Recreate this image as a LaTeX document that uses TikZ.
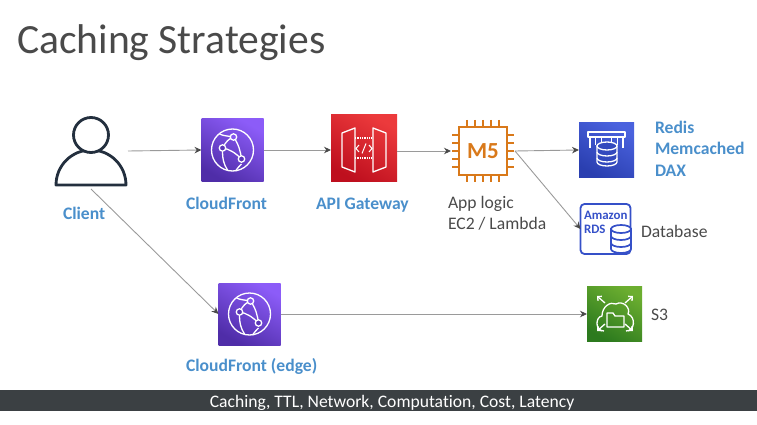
\documentclass[tikz,border=0pt]{standalone}
\usepackage{fontspec}
\setmainfont{Carlito}[Ligatures=NoCommon]
\usetikzlibrary{arrows.meta, positioning, calc}
\definecolor{awsPurpleA}{HTML}{8C5CF8}
\definecolor{awsPurpleB}{HTML}{4F2DA8}
\definecolor{awsRedA}{HTML}{EC3A3C}
\definecolor{awsRedB}{HTML}{BE0F1E}
\definecolor{awsBlueA}{HTML}{4A62DE}
\definecolor{awsBlueB}{HTML}{2A3FB0}
\definecolor{awsGreenA}{HTML}{6CAE30}
\definecolor{awsGreenB}{HTML}{2C7A1E}
\definecolor{awsOrange}{HTML}{D9791A}
\definecolor{awsRds}{HTML}{3550C8}
\definecolor{awsInk}{HTML}{232F3E}
\definecolor{lblBlue}{HTML}{4A8FCB}
\definecolor{lblGray}{HTML}{4A4A4A}
\definecolor{barGray}{HTML}{3B4043}
\definecolor{lineGray}{HTML}{9A9A9A}

\begin{document}
\begin{tikzpicture}[
  x=1pt, y=-1pt,
  every node/.append style={outer sep=0pt},
  tile/.style={minimum size=#1, inner sep=0pt},
  tile/.default=62pt,
  purpletile/.style={tile, top color=awsPurpleA, bottom color=awsPurpleB, shading angle=-30},
  redtile/.style={tile=66pt, top color=awsRedA, bottom color=awsRedB, shading angle=-30},
  bluetile/.style={tile=55pt, top color=awsBlueA, bottom color=awsBlueB, shading angle=-30},
  greentile/.style={tile=55pt, top color=awsGreenA, bottom color=awsGreenB, shading angle=-30},
  svc/.style={anchor=base west, inner sep=0pt, text=lblBlue, font=\fontsize{17.6}{20}\selectfont\bfseries},
  txt/.style={anchor=base west, inner sep=0pt, text=lblGray, font=\fontsize{17.6}{20}\selectfont},
  rdstxt/.style={anchor=base west, inner sep=0pt, text=awsRds, font=\fontsize{12.9}{15}\selectfont\bfseries},
  flow/.style={draw=lineGray, line width=0.9pt, -{Stealth[length=7pt, width=6.5pt, color=lblGray]}},
  glyph/.style={draw=white, line width=1.3pt},
  cfglyph/.pic={
    \draw[glyph] (0,0) circle (21);
    \draw[glyph] (-10,-2) .. controls (-6,-9) and (-4,-11) .. (1,-13);
    \draw[glyph] (-10,-2) .. controls (-3,-1) and (3,3) .. (9,9);
    \draw[glyph] (1,-13) .. controls (6,-6) and (8,1) .. (9,9);
    \draw[glyph] (-10,2) .. controls (-10,8) and (-9,14) .. (-5,20);
    \draw[glyph] (-13,-16) .. controls (-9,-14) and (-4,-14) .. (1,-13);
    \draw[glyph] (9,14) .. controls (7,16) and (5,18) .. (3,21);
    \draw[glyph, fill=awsPurpleB!80!awsPurpleA] (-10,-2) circle (3.2);
    \draw[glyph, fill=awsPurpleB!80!awsPurpleA] (9,9) circle (3.2);
    \draw[glyph, fill=awsPurpleA!90!awsPurpleB] (1,-13) circle (3.2);
  },
  dbglyph/.style={draw=#1, line width=1.7pt},
]

% ======================= title and bar ==================================
\node[anchor=base west, inner sep=0pt, text=lblGray, font=\fontsize{41.6}{50}\selectfont]
  (title) at (17,54) {Caching Strategies};
\node[fill=barGray, minimum width=757pt, minimum height=21pt, inner sep=0pt,
      text=white, font=\fontsize{17.6}{20}\selectfont, text depth=0pt]
  (bar) at (378.5,400.5) {\hspace*{27pt}\raisebox{-1pt}{Caching, TTL, Network, Computation, Cost, Latency}};

% ======================= client =========================================
\node[minimum width=74pt, minimum height=76pt, inner sep=0pt] (client) at (91,151) {};
\draw[awsInk, line width=2.8pt, line join=round] (56,185) arc (180:360:35) -- cycle;
\draw[awsInk, line width=2.8pt, fill=white] (91,135) circle (17.5);
\node[svc] (clientlbl) at (63,219) {Client};

% ======================= top row ========================================
\node[purpletile] (cf) at (232.5,150) {};
\pic at (cf) {cfglyph};
\node[svc] (cflbl) at (186,209) {CloudFront};

\node[redtile] (api) at (364,148) {};
\draw[glyph, line join=round] (342,133) -- (355,128) -- (355,172) -- (342,167) -- cycle;
\draw[glyph, line join=round] (386,133) -- (373,128) -- (373,172) -- (386,167) -- cycle;
\draw[glyph, densely dotted] (355,138) -- (373,138) (355,158) -- (373,158);
\draw[glyph, line width=1pt] (359,145) -- (356,148.5) -- (359,152) (369,145) -- (372,148.5) -- (369,152)
  (366,143.5) -- (362,153.5);
\node[svc] (apilbl) at (316,209) {API Gateway};

\node[minimum size=64pt, inner sep=0pt] (m5) at (483,151) {};
\draw[awsOrange, line width=2.2pt] (459,127) rectangle (507,175);
\foreach \d in {-16,-8,0,8,16} {
  \draw[awsOrange, line width=2.2pt] (483+\d,120) -- (483+\d,127) (483+\d,175) -- (483+\d,182);
  \draw[awsOrange, line width=2.2pt] (452,151+\d) -- (459,151+\d) (507,151+\d) -- (514,151+\d);
}
\node[inner sep=0pt, text=awsOrange, font=\fontsize{23}{24}\selectfont\bfseries] (m5lbl) at (483,151) {M5};
\node[txt] (applbl) at (448,208) {App logic};
\node[txt] (ec2lbl) at (448,229) {EC2 / Lambda};

% ======================= caches =========================================
\node[bluetile] (cache) at (606.5,150) {};
\draw[glyph, line join=round] (590,148) -- (590,137) -- (588,137) -- (588,132) -- (625,132) -- (625,137) -- (623,137) -- (623,148)
  (590,137) -- (623,137);
\foreach \d in {-11,-5,5,11} {
  \draw[glyph, line width=0.9pt] (606.5+\d,137) -- (606.5+\d,145);
}
\draw[glyph, fill=awsBlueB!70!awsBlueA] (597,146) -- (597,162) arc (180:0:10 and 4) -- (617,146) -- cycle;
\draw[glyph, fill=awsBlueB!70!awsBlueA] (607,146) ellipse (10 and 4);
\draw[glyph] (597,152) arc (180:0:10 and 4) (597,158) arc (180:0:10 and 4);
\node[svc] (redislbl) at (655,133) {Redis};
\node[svc] (memlbl) at (655,154.5) {Memcached};
\node[svc] (daxlbl) at (655,176) {DAX};

\node[draw=awsRds, line width=1.8pt, rounded corners=4pt, minimum size=50pt, inner sep=0pt] (rds) at (605.5,229) {};
\node[rdstxt] (rdsa) at (584,219) {Amazon};
\node[rdstxt] (rdsb) at (584,233) {RDS};
\draw[dbglyph=awsRds, fill=white] (611,229) -- (611,249) arc (180:0:10 and 4) -- (631,229) -- cycle;
\draw[dbglyph=awsRds, fill=white] (621,229) ellipse (10 and 4);
\draw[dbglyph=awsRds] (611,236) arc (180:0:10 and 4) (611,243) arc (180:0:10 and 4);
\node[txt] (dblbl) at (641,237) {Database};

% ======================= bottom row =====================================
\node[purpletile] (edge) at (249.5,314) {};
\pic at (edge) {cfglyph};
\node[svc] (edgelbl) at (186,371) {CloudFront (edge)};

\node[greentile] (s3) at (614.5,313.5) {};
\draw[glyph, line join=round] (604,331) .. controls (595,331) and (595,317) .. (602,316)
  .. controls (602,307) and (610,301) .. (616,304) .. controls (623,300) and (631,308) .. (628,314)
  .. controls (636,317) and (635,331) .. (626,331);
\draw[glyph, line join=round] (607,327) -- (607,313) -- (613,313) -- (615,316) -- (624,316) -- (624,327) -- cycle;
\draw[glyph, -{Straight Barb[length=3pt]}] (605,303) -- (597,296);
\draw[glyph, -{Straight Barb[length=3pt]}] (625,303) -- (633,296);
\draw[glyph, -{Straight Barb[length=3pt]}] (605,324) -- (597,331);
\draw[glyph, -{Straight Barb[length=3pt]}] (625,324) -- (633,331);
\node[txt] (s3lbl) at (651,320) {S3};

% ======================= connectors =====================================
\draw[flow] (client.east) -- (cf.west);
\draw[flow] (cf.east) -- (api.west |- cf.east);
\draw[flow] (api.east |- m5.west) -- (m5.west);
\draw[flow] (m5.east) -- (cache.west);
\draw[flow] (m5.east) -- (rds.west);
\draw[flow] (client.south) -- (edge.west);
\draw[flow] (edge.east) -- (s3.west |- edge.east);

\useasboundingbox (0,0) rectangle (757,425);
\end{tikzpicture}
\end{document}
